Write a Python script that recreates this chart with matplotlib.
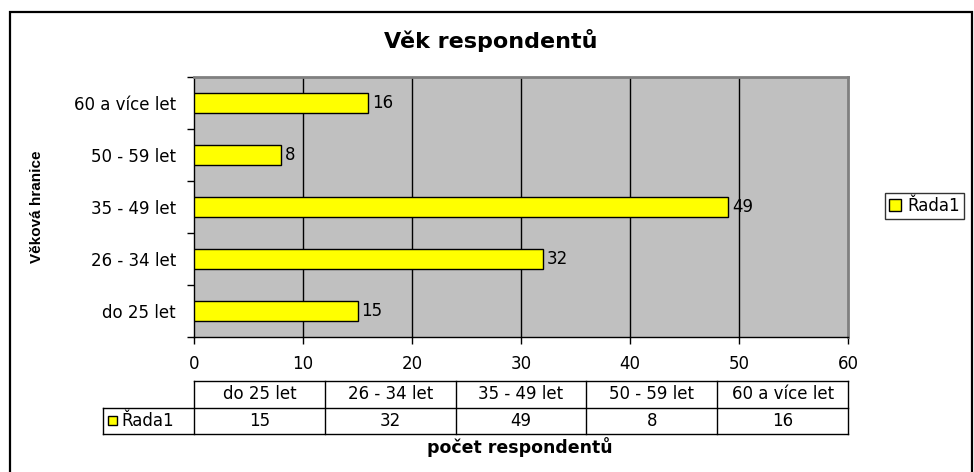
import matplotlib
matplotlib.use("Agg")
import matplotlib.pyplot as plt
from matplotlib.patches import Rectangle

plt.rcParams['font.family'] = ['DejaVu Sans']

categories = ["do 25 let", "26 - 34 let", "35 - 49 let", "50 - 59 let", "60 a více let"]
values = [15, 32, 49, 8, 16]
series_name = "Řada1"
title = "Věk respondentů"
ylabel = "Věková hranice"
xlabel = "počet respondentů"
xticks = [0, 10, 20, 30, 40, 50, 60]

W, H = 974, 472
fig = plt.figure(figsize=(W / 100, H / 100), dpi=100)
fig.patch.set_facecolor("white")

def fx(px):
    return px / W

def fy(py):
    return 1 - py / H

# outer chart border
fig.patches.append(Rectangle((fx(10), fy(475)), fx(972) - fx(10), fy(12) - fy(475),
                             transform=fig.transFigure, fill=False, edgecolor="black",
                             linewidth=1.6, zorder=0))

FS = 12
YELLOW = "#FFFF00"

# main axes
ax = fig.add_axes([fx(194), fy(337), (848 - 194) / W, (337 - 77) / H])
ax.set_facecolor("#C0C0C0")
pos = list(range(len(categories)))
bars = ax.barh(pos, values, height=0.4, color=YELLOW, edgecolor="black",
               linewidth=1.0, label=series_name, zorder=3)
for p, v in zip(pos, values):
    ax.text(v + 0.35, p, str(v), va="center", ha="left", fontsize=FS, zorder=4)

ax.set_xlim(0, 60)
ax.set_ylim(-0.5, len(categories) - 0.5)
ax.set_xticks(xticks)
ax.set_xticklabels([str(t) for t in xticks], fontsize=FS)
ax.tick_params(axis="x", direction="out", length=5, width=1, pad=8, colors="black")
ax.set_yticks([i - 0.5 for i in range(len(categories) + 1)])
ax.set_yticklabels([])
ax.set_yticks(pos, minor=True)
ax.set_yticklabels(categories, minor=True, fontsize=FS)
ax.tick_params(axis="y", which="major", direction="out", length=5, width=1)
ax.tick_params(axis="y", which="minor", length=0, pad=13)
for t in xticks[1:-1]:
    ax.axvline(t, color="black", linewidth=1.0, zorder=1)
ax.spines["left"].set_color("black")
ax.spines["bottom"].set_color("black")
ax.spines["left"].set_linewidth(1.0)
ax.spines["bottom"].set_linewidth(1.0)
ax.spines["top"].set_color("#808080")
ax.spines["right"].set_color("#808080")
ax.spines["top"].set_linewidth(2.0)
ax.spines["right"].set_linewidth(2.0)
ax.set_ylabel(ylabel, fontsize=11, fontweight="bold", family=["Liberation Sans", "DejaVu Sans"])
ax.yaxis.set_label_coords((44 - 194) / 654, 0.5)

# title and x label
fig.text(fx(491), fy(40), title, fontsize=16, fontweight="bold", ha="center", va="center")
fig.text(fx(520), fy(447), xlabel, fontsize=12.5, fontweight="bold", ha="center", va="center")

# legend
leg = fig.legend(handles=[bars], labels=[series_name], loc="center",
                 bbox_to_anchor=(fx(924.5), fy(206)), frameon=True, fancybox=False,
                 edgecolor="black", fontsize=FS, handlelength=0.7, handleheight=0.7,
                 handletextpad=0.35, borderpad=0.25, borderaxespad=0)
leg.get_frame().set_linewidth(1.0)

# data table
colw = (848 - 194) / len(categories)
lab = (194 - 103) / colw
axt = fig.add_axes([fx(103), fy(434), (848 - 103) / W, (434 - 381) / H])
axt.set_xlim(-lab, len(categories))
axt.set_ylim(0, 2)
axt.axis("off")
n = len(categories)
lk = dict(color="black", linewidth=1.0, clip_on=False, solid_capstyle="projecting")
axt.plot([0, n], [2, 2], **lk)
axt.plot([-lab, n], [1, 1], **lk)
axt.plot([-lab, n], [0, 0], **lk)
axt.plot([-lab, -lab], [0, 1], **lk)
for i in range(n + 1):
    axt.plot([i, i], [0, 2], **lk)
for i, (c, v) in enumerate(zip(categories, values)):
    axt.text(i + 0.5, 1.5, c, ha="center", va="center", fontsize=FS)
    axt.text(i + 0.5, 0.5, str(v), ha="center", va="center", fontsize=FS)
sw_x = -lab + 5 / colw
axt.add_patch(Rectangle((sw_x, 0.5 - 0.17), 9 / colw, 0.34, facecolor=YELLOW,
                        edgecolor="black", linewidth=1.0, clip_on=False))
axt.text(-lab + 18 / colw, 0.5, series_name, ha="left", va="center", fontsize=FS)

fig.savefig("out.png", dpi=100)
